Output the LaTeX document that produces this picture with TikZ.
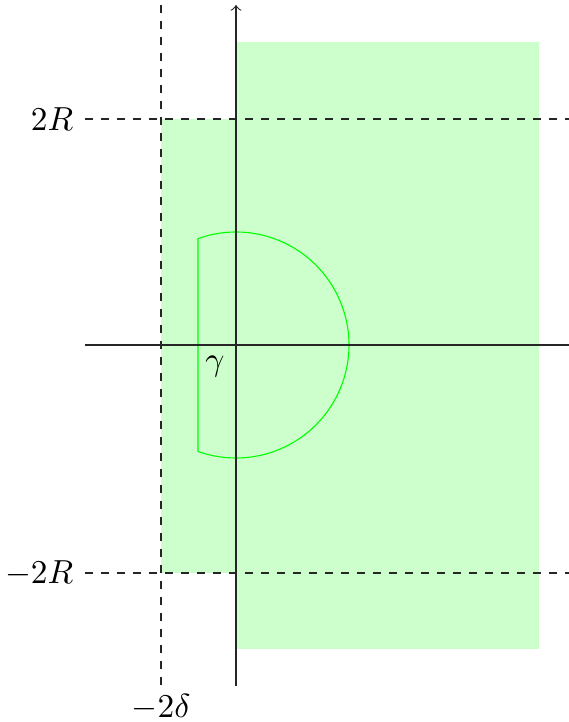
\documentclass[tikz,border=0pt]{standalone}
\begin{document}
\begin{tikzpicture}[x=0.3pt,y=0.3pt,
  axis/.style={draw=black!85, line width=0.33pt},
  guide/.style={draw=black!85, line width=0.33pt, dash pattern=on 2.4pt off 2.4pt},
  region/.style={fill=green!20, draw=none},
  contour/.style={draw=green, line width=0.33pt}]
\useasboundingbox (-236,-377) rectangle (333,345);
% shaded region
\fill[region] (0,-304) rectangle (303,303);
\fill[region] (-75,-228) rectangle (0,226);
% contour gamma
\draw[contour] (-38,106.4) arc[start angle=109.65, end angle=-109.65, radius=113] -- cycle;
% dashed guides
\coordinate (dtop) at (-75,340);
\coordinate (dbot) at (-75,-341);
\coordinate (hl1) at (-151,226);
\coordinate (hr1) at (333,226);
\coordinate (hl2) at (-151,-228);
\coordinate (hr2) at (333,-228);
\draw[guide] (dtop) -- (dbot);
\draw[guide] (hl1) -- (hr1);
\draw[guide] (hl2) -- (hr2);
% axes
\coordinate (xl) at (-151,0);
\coordinate (xr) at (333,0);
\coordinate (yb) at (0,-341);
\coordinate (yt) at (0,340);
\draw[axis] (xl) -- (xr);
\draw[axis,->] (yb) -- (yt);
% labels
\node[anchor=east] (l2R) at (hl1) {$2R$};
\node[anchor=east] (lm2R) at (hl2) {$-2R$};
\node[anchor=north, inner sep=2.2pt] (ld) at (dbot) {$-2\delta$};
\node (lg) at (-21,-22) {$\gamma$};
\end{tikzpicture}
\end{document}
